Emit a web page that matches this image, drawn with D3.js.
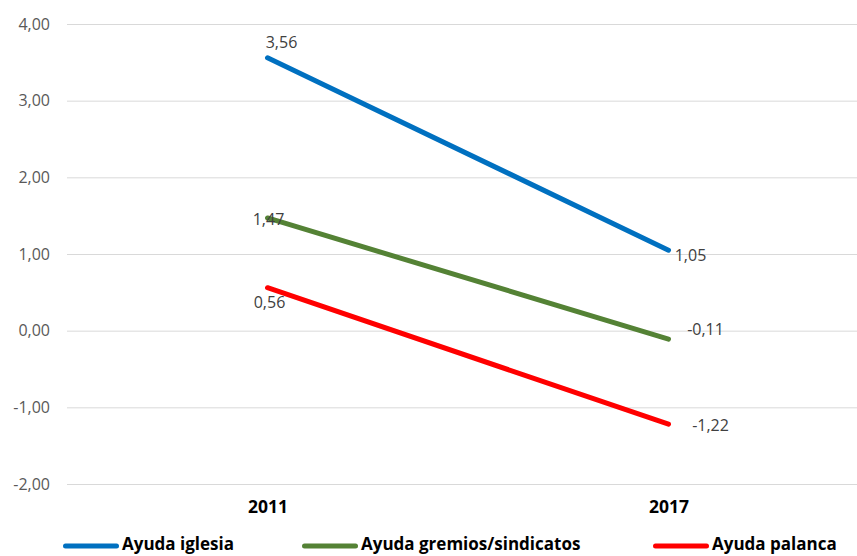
<!DOCTYPE html>
<html>
<head>
<meta charset="utf-8">
<script src="https://cdn.jsdelivr.net/npm/d3@7"></script>
<style>
  body { margin: 0; background: #fff; }
  svg { font-family: "Open Sans", "Liberation Sans", sans-serif; }
</style>
</head>
<body>
<div id="chart"></div>
<script>
const years = ["2011", "2017"];
const seriesNames = ["Ayuda iglesia", "Ayuda gremios/sindicatos", "Ayuda palanca"];
const seriesColors = ["#0070C0", "#548235", "#FF0000"];
const iglesia = [3.56, 1.05];
const gremios = [1.47, -0.11];
const palanca = [0.56, -1.22];
const yTicks = [-2, -1, 0, 1, 2, 3, 4];

const series = [iglesia, gremios, palanca];

// label offsets per series / point (dx, dy relative to point)
const labelPos = [
  [{ dx: 14, dy: -15 }, { dx: 22, dy: 5 }],
  [{ dx: 1, dy: 1 }, { dx: 37, dy: -10 }],
  [{ dx: 2, dy: 15 }, { dx: 42, dy: 1 }]
];

const svgWidth = 857;
const svgHeight = 556;
const margin = { left: 67, top: 24 };
const plotW = 802;
const plotH = 460;

// format with comma decimal and plain hyphen
const fmt = d => d3.format(".2f")(d).replace(".", ",").replace("\u2212", "-");

const svg = d3.select("#chart")
  .append("svg")
  .attr("width", svgWidth)
  .attr("height", svgHeight);

const g = svg.append("g")
  .attr("transform", `translate(${margin.left},${margin.top})`);

const x = d3.scalePoint()
  .domain(years)
  .range([0, plotW])
  .padding(0.5);

const y = d3.scaleLinear()
  .domain([-2, 4])
  .range([plotH, 0]);

// grid
const grid = g.append("g")
  .call(d3.axisLeft(y).tickValues(yTicks).tickSize(-plotW).tickFormat(""));
grid.select(".domain").remove();
grid.selectAll(".tick line").attr("stroke", "#d9d9d9").attr("stroke-width", 1);

// y axis labels
const yAxis = g.append("g")
  .call(d3.axisLeft(y).tickValues(yTicks).tickSize(0).tickPadding(17).tickFormat(fmt));
yAxis.select(".domain").remove();
yAxis.selectAll("text")
  .attr("fill", "#595959")
  .style("font-size", "16px")
  .style("font-family", "'Open Sans', sans-serif");

// x axis labels
const xAxis = g.append("g")
  .attr("transform", `translate(0,${plotH})`)
  .call(d3.axisBottom(x).tickSize(0).tickPadding(17));
xAxis.select(".domain").remove();
xAxis.selectAll("text")
  .attr("fill", "#000")
  .style("font-size", "17.5px")
  .style("font-weight", "bold")
  .style("font-family", "'Open Sans', sans-serif");

// lines
const line = d3.line()
  .x((d, i) => x(years[i]))
  .y(d => y(d));

g.selectAll(".series")
  .data(series)
  .enter()
  .append("path")
  .attr("class", "series")
  .attr("d", d => line(d))
  .attr("fill", "none")
  .attr("stroke", (d, i) => seriesColors[i])
  .attr("stroke-width", 5)
  .attr("stroke-linecap", "round");

// data labels
series.forEach((s, si) => {
  s.forEach((v, i) => {
    const p = labelPos[si][i];
    g.append("text")
      .attr("x", x(years[i]) + p.dx)
      .attr("y", y(v) + p.dy)
      .attr("dy", "0.35em")
      .attr("text-anchor", "middle")
      .attr("fill", "#404040")
      .style("font-size", "16px")
      .text(fmt(v));
  });
});

// legend
const legendX = [63, 302, 653];
const legend = svg.append("g").attr("transform", "translate(0,544)");
seriesNames.forEach((name, i) => {
  const item = legend.append("g").attr("transform", `translate(${legendX[i]},0)`);
  item.append("line")
    .attr("x1", 2.5).attr("x2", 53.5)
    .attr("y1", 2).attr("y2", 2)
    .attr("stroke", seriesColors[i])
    .attr("stroke-width", 5)
    .attr("stroke-linecap", "round");
  item.append("text")
    .attr("x", 59)
    .attr("y", 0)
    .attr("dy", "0.35em")
    .attr("fill", "#000")
    .style("font-size", "17px")
    .style("font-weight", "bold")
    .text(name);
});
</script>
</body>
</html>
